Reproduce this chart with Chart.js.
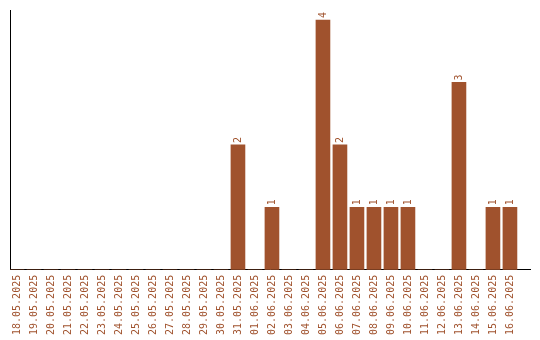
<!DOCTYPE html>
<html>
<head>
<meta charset="utf-8">
<script src="https://cdn.jsdelivr.net/npm/chart.js@4/dist/chart.umd.min.js"></script>
<style>
html,body{margin:0;padding:0;background:#fff;}
#wrap{width:540px;height:340px;position:relative;}
</style>
</head>
<body>
<div id="wrap"><canvas id="c" width="540" height="340"></canvas></div>
<script>
const dates = ["18.05.2025","19.05.2025","20.05.2025","21.05.2025","22.05.2025","23.05.2025","24.05.2025","25.05.2025","26.05.2025","27.05.2025","28.05.2025","29.05.2025","30.05.2025","31.05.2025","01.06.2025","02.06.2025","03.06.2025","04.06.2025","05.06.2025","06.06.2025","07.06.2025","08.06.2025","09.06.2025","10.06.2025","11.06.2025","12.06.2025","13.06.2025","14.06.2025","15.06.2025","16.06.2025"];
const counts = [0,0,0,0,0,0,0,0,0,0,0,0,0,2,0,1,0,0,4,2,1,1,1,1,0,0,3,0,1,1];
const barColor = "#a0522d";

const points = counts.map((v, i) => ({x: i, y: v}));

const valueLabels = {
  id: 'valueLabels',
  afterDatasetsDraw(chart) {
    const ctx = chart.ctx;
    const meta = chart.getDatasetMeta(0);
    ctx.save();
    ctx.fillStyle = barColor;
    ctx.font = '10px "DejaVu Sans Mono", monospace';
    ctx.textAlign = 'left';
    ctx.textBaseline = 'middle';
    meta.data.forEach((bar, i) => {
      const v = counts[i];
      if (!v) return;
      ctx.save();
      ctx.translate(bar.x, bar.y - 2);
      ctx.rotate(-Math.PI / 2);
      ctx.fillText(String(v), 0, 0);
      ctx.restore();
    });
    ctx.restore();
  }
};

new Chart(document.getElementById('c'), {
  type: 'bar',
  data: {
    datasets: [{
      data: points,
      backgroundColor: barColor,
      borderWidth: 0,
      barThickness: 14
    }]
  },
  options: {
    responsive: false,
    animation: false,
    layout: {padding: {left: 10, top: 10, right: 10, bottom: 0}},
    plugins: {legend: {display: false}, tooltip: {enabled: false}},
    scales: {
      x: {
        type: 'linear',
        offset: false,
        min: -0.41,
        max: 30.18,
        afterFit: (s) => { s.paddingLeft = 0; s.paddingRight = 0; },
        grid: {display: false, drawTicks: false, offset: false},
        border: {display: true, color: '#000', width: 1},
        ticks: {
          stepSize: 1,
          includeBounds: false,
          autoSkip: false,
          minRotation: 90,
          maxRotation: 90,
          padding: 5,
          color: barColor,
          font: {family: '"DejaVu Sans Mono", monospace', size: 10},
          callback: (v) => (Number.isInteger(v) && dates[v] !== undefined) ? dates[v] : ''
        }
      },
      y: {
        min: 0,
        max: 4.16,
        grid: {display: false, drawTicks: false},
        border: {display: true, color: '#000', width: 1},
        ticks: {display: false}
      }
    }
  },
  plugins: [valueLabels]
});
</script>
</body>
</html>
